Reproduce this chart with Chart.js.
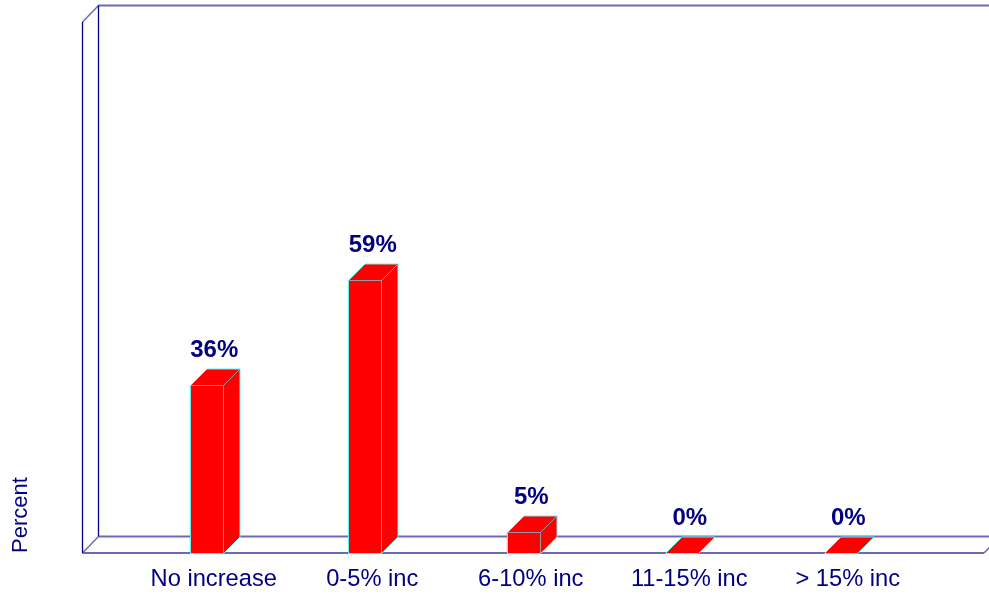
<!DOCTYPE html>
<html><head><meta charset="utf-8">
<style>html,body{margin:0;padding:0;background:#fff}canvas{display:block}</style>
<script src="https://cdn.jsdelivr.net/npm/chart.js@4"></script>
</head><body><canvas id="c" width="989" height="594"></canvas>
<script>
const categories = ['No increase','0-5% inc','6-10% inc','11-15% inc','> 15% inc'];
const percentValues = [36.2, 59, 4.5, 0, 0];
const axisTitle = 'Percent';
const NAVY = '#000080', WALL = '#6c6cb6', CYAN = '#66f0f0', INNER = '#9a9aa6', RED = '#ff0000';
const DX = 16.5, DY = 16.5, WALL_DX = 16;

function seg(ctx, pts, color, w){
  ctx.beginPath(); ctx.strokeStyle = color; ctx.lineWidth = w;
  pts.forEach((p,i)=> i ? ctx.lineTo(p[0],p[1]) : ctx.moveTo(p[0],p[1]));
  ctx.stroke();
}
function poly(ctx, pts, fill){
  ctx.beginPath(); ctx.fillStyle = fill;
  pts.forEach((p,i)=> i ? ctx.lineTo(p[0],p[1]) : ctx.moveTo(p[0],p[1]));
  ctx.closePath(); ctx.fill();
}
const box3d = {
  id:'box3d',
  beforeDatasetsDraw(chart){
    const {ctx, chartArea:a} = chart;
    const L = 82.5, T = a.top, B = a.bottom, R = 984;
    ctx.save();
    seg(ctx, [[L+WALL_DX,T-DY],[989,T-DY]], WALL, 2);
    seg(ctx, [[L+WALL_DX,B-DY],[989,B-DY]], WALL, 2);
    seg(ctx, [[L,B],[R,B]], WALL, 2);
    seg(ctx, [[R,B],[R+WALL_DX,B-DY]], WALL, 1.5);
    seg(ctx, [[L,T],[L+WALL_DX,T-DY]], WALL, 1.5);
    seg(ctx, [[L,B],[L+WALL_DX,B-DY]], WALL, 1.5);
    seg(ctx, [[L,T],[L,B]], NAVY, 1.3);
    seg(ctx, [[L+WALL_DX,T-DY],[L+WALL_DX,B-DY]], NAVY, 1.3);
    ctx.restore();
  },
  afterDatasetsDraw(chart){
    const {ctx} = chart;
    const meta = chart.getDatasetMeta(0);
    ctx.save();
    meta.data.forEach((bar,i)=>{
      const p = bar.getProps(['x','y','base','width'], true);
      const l = Math.floor(p.x - p.width/2) + 0.5, r = l + p.width, t = Math.floor(p.y) + 0.5, b = Math.round(p.base) + 0.5;
      poly(ctx, [[l,t],[r,t],[r+DX,t-DY],[l+DX,t-DY]], RED);
      poly(ctx, [[r,t],[r,b],[r+DX,b-DY],[r+DX,t-DY]], RED);
      seg(ctx, [[l,t],[l+DX,t-DY],[r+DX,t-DY]], CYAN, 1);
      seg(ctx, [[r+DX,t-DY],[r+DX,b-DY],[r,b]], CYAN, 1);
      if (b - t > 1) {
        seg(ctx, [[l,t],[r,t],[r,b]], INNER, 1);
        seg(ctx, [[r,t],[r+DX,t-DY]], INNER, 1);
      }
      seg(ctx, [[l,t],[l,b],[r,b]], CYAN, 1);
      ctx.fillStyle = NAVY;
      ctx.font = 'bold 24px "Liberation Sans", Arial, sans-serif';
      ctx.textAlign = 'center';
      ctx.textBaseline = 'alphabetic';
      ctx.fillText(Math.round(percentValues[i]) + '%', p.x + 7.5, t - DY - 12.5);
    });
    ctx.restore();
  }
};
new Chart(document.getElementById('c'), {
  type:'bar',
  data:{labels:categories, datasets:[{data:percentValues, backgroundColor:RED, borderWidth:0, barThickness:33}]},
  options:{
    responsive:false, animation:false,
    layout:{padding:{left:0,right:69,top:22,bottom:0}},
    plugins:{legend:{display:false},tooltip:{enabled:false},title:{display:false}},
    scales:{
      x:{
        grid:{display:false}, border:{display:false},
        afterFit(s){ s.height = 41; },
        ticks:{color:NAVY, font:{family:'"Liberation Sans", Arial, sans-serif', size:23.7}, padding:4,
          labelOffset:7, maxRotation:0, minRotation:0, autoSkip:false}
      },
      y:{
        min:0, max:115,
        grid:{display:false}, border:{display:false},
        afterFit(s){ s.width = 127.5; },
        ticks:{display:false},
        title:{display:true, text:axisTitle, align:'start', color:NAVY,
          font:{family:'"Liberation Sans", Arial, sans-serif', size:22}, padding:{top:8,bottom:0}}
      }
    }
  },
  plugins:[box3d]
});
</script></body></html>
